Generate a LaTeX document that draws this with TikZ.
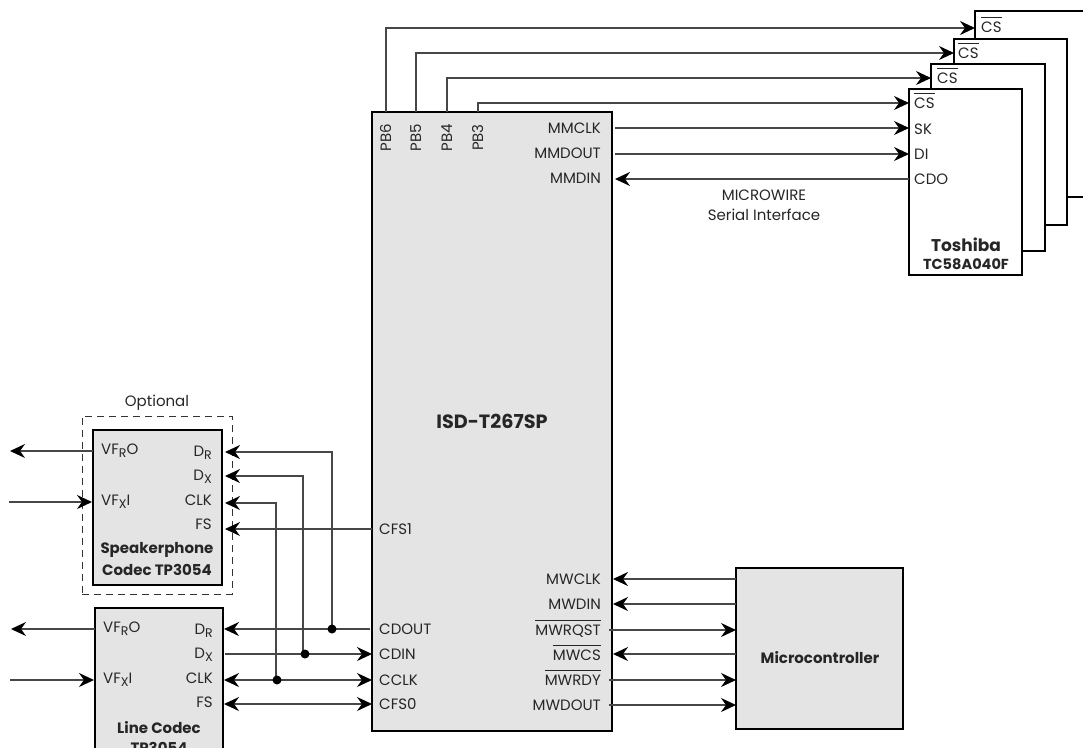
\documentclass[tikz,border=0pt]{standalone}
\usepackage{fontspec}
\setmainfont{Poppins}
\usetikzlibrary{arrows.meta}
\definecolor{boxgray}{HTML}{E4E4E4}
\definecolor{inkgray}{HTML}{262626}
\newcommand{\ovl}[1]{$\overline{\mbox{#1}\rule{0pt}{13.5pt}}$}
\newcommand{\sbs}[1]{\raisebox{-3.5pt}{\fontsize{12.5}{12.5}\selectfont #1}}
\tikzset{
  x=1pt,y=-1pt,
  blk/.style={draw=black,line width=2.7pt,inner sep=0pt,outer sep=0pt},
  gbox/.style={blk,fill=boxgray},
  wbox/.style={blk,fill=white},
  wire/.style={draw=black!72,line width=1.4pt},
  ar/.style={wire,-{Stealth[length=15pt,width=14pt,inset=5pt,color=black,fill=black]}},
  lr/.style={wire,{Stealth[length=15pt,width=14pt,inset=5pt,color=black,fill=black]}-{Stealth[length=15pt,width=14pt,inset=5pt,color=black,fill=black]}},
  lt/.style={font=\fontsize{15}{15}\selectfont,text=inkgray,inner sep=0pt},
  lw/.style={lt,anchor=base west},
  le/.style={lt,anchor=base east},
  lc/.style={lt,anchor=center},
  lv/.style={lt,rotate=90,anchor=base east},
  bt/.style={font=\fontsize{15}{15}\selectfont\bfseries,text=inkgray,inner sep=0pt,anchor=center},
  dot/.style={circle,fill=black,inner sep=0pt,minimum size=9pt},
}
\begin{document}
\begin{tikzpicture}
\useasboundingbox (0,0) rectangle (1083,747);
\clip (0,0) rectangle (1083,747);

% chips (back to front)
\node[wbox,minimum width=125pt,minimum height=186pt] (chipD) at (1037.5,104) {};
\node[wbox,minimum width=113pt,minimum height=186pt] (chipC) at (1010.5,132) {};
\node[wbox,minimum width=114pt,minimum height=187pt] (chipB) at (988,157.5) {};
\node[wbox,minimum width=113pt,minimum height=186pt] (chipA) at (965.5,182) {};

% main boxes
\node[gbox,minimum width=240pt,minimum height=619pt] (isd) at (492,421.5) {};
\node[gbox,minimum width=167pt,minimum height=161pt] (mcu) at (819.5,648.5) {};

% optional
\node[draw=black!80,line width=1pt,dash pattern=on 7pt off 5pt,minimum width=150pt,minimum height=178pt,inner sep=0pt,outer sep=0pt] (opt) at (157,505) {};
\node[gbox,minimum width=129pt,minimum height=155pt] (spk) at (157.5,507.5) {};
\node[gbox,minimum width=128pt,minimum height=170pt] (lin) at (159,693) {};

% text: main
\node[font=\fontsize{19.2}{19.2}\selectfont\bfseries,text=inkgray,inner sep=0pt] (isdname) at (492,421) {ISD-T267SP};
\node[bt] (mcuname) at (820,658) {Microcontroller};

\node[lv] (pb6) at (391,124) {PB6};
\node[lv] (pb5) at (421,124) {PB5};
\node[lv] (pb4) at (452,124) {PB4};
\node[lv] (pb3) at (483,124) {PB3};

\node[le] (mmclk) at (601,133) {MMCLK};
\node[le] (mmdout) at (601,158) {MMDOUT};
\node[le] (mmdin) at (601,183) {MMDIN};

\node[le] (mwclk) at (601,584) {MWCLK};
\node[le] (mwdin) at (601,609) {MWDIN};
\node[le] (mwrqst) at (601,635) {\ovl{MWRQST}};
\node[le] (mwcs) at (601,660) {\ovl{MWCS}};
\node[le] (mwrdy) at (601,685) {\ovl{MWRDY}};
\node[le] (mwdout) at (601,710) {MWDOUT};

\node[lw] (cfs1) at (379,534) {CFS1};
\node[lw] (cdout) at (379,634) {CDOUT};
\node[lw] (cdin) at (379,659) {CDIN};
\node[lw] (cclk) at (379,685) {CCLK};
\node[lw] (cfs0) at (379,709) {CFS0};

% text: chips
\node[lw] (csD) at (981,32) {\ovl{CS}};
\node[lw] (csC) at (958,58) {\ovl{CS}};
\node[lw] (csB) at (937,83) {\ovl{CS}};
\node[lw] (csA) at (914,108) {\ovl{CS}};
\node[lw] (sk) at (914,134) {SK};
\node[lw] (di) at (914,159) {DI};
\node[lw] (cdo) at (914,184) {CDO};
\node[bt,font=\fontsize{17}{17}\selectfont\bfseries] (tosh) at (966,245) {Toshiba};
\node[bt,font=\fontsize{14.5}{14.5}\selectfont\bfseries] (tcname) at (966,264) {TC58A040F};
\node[lc] (mw) at (764,195) {MICROWIRE};
\node[lc] (si) at (764,215) {Serial Interface};

% text: codecs
\node[lc] (optname) at (157,403) {Optional};
\node[lw] (s1) at (101,454) {VF\sbs{R}O};
\node[lw] (s2) at (101,505) {VF\sbs{X}I};
\node[le] (s3) at (212,456) {D\sbs{R}};
\node[le] (s4) at (212,480) {D\sbs{X}};
\node[le] (s5) at (212,505) {CLK};
\node[le] (s6) at (212,529) {FS};
\node[bt] (s7) at (157,550) {Speakerphone};
\node[bt] (s8) at (157,570) {Codec TP3054};

\node[lw] (l1) at (103,632) {VF\sbs{R}O};
\node[lw] (l2) at (103,683) {VF\sbs{X}I};
\node[le] (l3) at (213,634) {D\sbs{R}};
\node[le] (l4) at (213,658) {D\sbs{X}};
\node[le] (l5) at (213,683) {CLK};
\node[le] (l6) at (213,707) {FS};
\node[bt] (l7) at (159,728) {Line Codec};
\node[bt] (l8) at (159,748) {TP3054};

% named junctions and free ends
\coordinate (jr) at (332,629);
\coordinate (jx) at (305,654);
\coordinate (jc) at (277,680);
\coordinate (tr) at (225,452);
\coordinate (tx) at (225,476);
\coordinate (tc) at (225,503);
\coordinate (tf) at (225,529);
\coordinate (ur) at (224,629);
\coordinate (ux) at (225,654);
\coordinate (uc) at (224,680);
\coordinate (uf) at (224,704);
\coordinate (o1) at (10,451);
\coordinate (i1) at (9,502);
\coordinate (o2) at (11,629);
\coordinate (i2) at (10,680);

% chip select lines
\draw[ar] (isd.north -| 386,0) |- (chipD.west |- 0,28);
\draw[ar] (isd.north -| 416,0) |- (chipC.west |- 0,53);
\draw[ar] (isd.north -| 447,0) |- (chipB.west |- 0,78);
\draw[ar] (isd.north -| 478,0) |- (chipA.west |- 0,103);

% microwire
\draw[ar,shorten <=3pt] (isd.east |- 0,128) -- (chipA.west |- 0,128);
\draw[ar,shorten <=3pt] (isd.east |- 0,154) -- (chipA.west |- 0,154);
\draw[ar,shorten >=3pt] (chipA.west |- 0,179) -- (isd.east |- 0,179);

% microcontroller
\draw[ar,shorten >=1pt] (mcu.west |- 0,579) -- (isd.east |- 0,579);
\draw[ar,shorten >=1pt] (mcu.west |- 0,604) -- (isd.east |- 0,604);
\draw[ar] (mwrqst.east |- 0,630) ++(8,0) -- (mcu.west |- 0,630);
\draw[ar,shorten >=1pt] (mcu.west |- 0,654) -- (isd.east |- 0,654);
\draw[ar] (mwrdy.east |- 0,680) ++(8,0) -- (mcu.west |- 0,680);
\draw[ar] (mwdout.east |- 0,705) ++(8,0) -- (mcu.west |- 0,705);

% codec bus
\draw[ar] (jr) |- (tr);
\draw[ar] (jx) ++(-2,0) |- (tx);
\draw[ar] (jc) ++(-1,0) |- (tc);
\draw[ar] (isd.west |- tf) -- (tf);
\draw[ar,shorten <=2pt] (isd.west |- ur) -- (ur);
\draw[ar] (ux) -- (isd.west |- ux);
\draw[lr] (uc) -- (isd.west |- uc);
\draw[lr] (uf) -- (isd.west |- uf);
\node[dot] (djr) at (jr) {};
\node[dot] (djx) at (jx) {};
\node[dot] (djc) at (jc) {};

% analog
\draw[ar] (spk.west |- o1) -- (o1);
\draw[ar,shorten >=1pt] (i1) -- (spk.west |- i1);
\draw[ar] (lin.west |- o2) -- (o2);
\draw[ar,shorten >=1pt] (i2) -- (lin.west |- i2);
\end{tikzpicture}
\end{document}
